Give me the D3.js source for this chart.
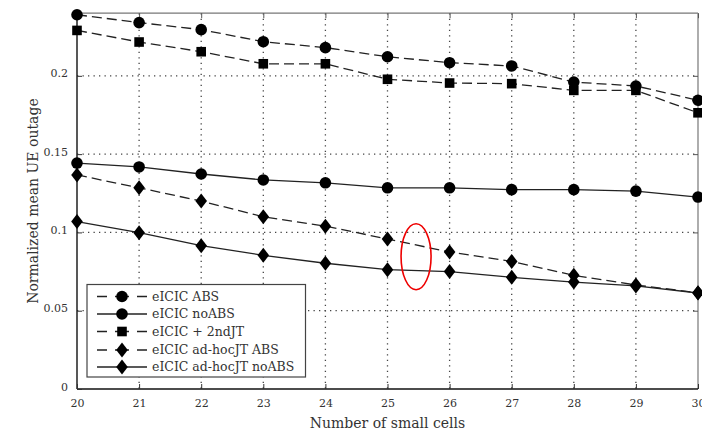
<!DOCTYPE html>
<html><head><meta charset="utf-8">
<script src="https://cdn.jsdelivr.net/npm/d3@7"></script>
<style>html,body{margin:0;padding:0;background:#fff;}svg{display:block;}</style>
</head><body>
<svg id="c" width="702" height="433"></svg>
<script>
const cells = [20,21,22,23,24,25,26,27,28,29,30];
const eicicABS = [0.239,0.234,0.2295,0.2218,0.218,0.2122,0.2084,0.2063,0.196,0.1935,0.1844];
const eicicNoABS = [0.1443,0.1418,0.1373,0.1335,0.1317,0.1285,0.1285,0.1273,0.1273,0.1264,0.1226];
const eicic2ndJT = [0.229,0.2216,0.2154,0.2077,0.2077,0.1978,0.1954,0.195,0.1907,0.1907,0.1764];
const adhocABS = [0.1367,0.1285,0.12,0.11,0.104,0.0958,0.0875,0.0815,0.0726,0.0664,0.0615];
const adhocNoABS = [0.1069,0.0998,0.0915,0.0854,0.0803,0.0762,0.075,0.0713,0.0683,0.0658,0.0613];
const yTicks = [0,0.05,0.1,0.15,0.2];
const yTickLabels = ["0","0.05","0.1","0.15","0.2"];
const seriesNames = ["eICIC ABS","eICIC noABS","eICIC + 2ndJT","eICIC ad-hocJT ABS","eICIC ad-hocJT noABS"];
const seriesValues = [eicicABS,eicicNoABS,eicic2ndJT,adhocABS,adhocNoABS];
const seriesMarkers = ["circle","circle","square","diamond","diamond"];
const seriesDashed = [true,false,true,true,false];

const svg = d3.select("#c");
const L=77, R=698, T=13.2, B=389;
const x = d3.scaleLinear().domain([20,30]).range([L,R]);
const y = d3.scaleLinear().domain([0,0.24]).range([B,T]);
const font = "'DejaVu Serif', 'Liberation Serif', serif";
const ink = "#222";

// grid
const g = svg.append("g");
g.selectAll(".gx").data(cells.slice(1,-1)).join("line")
  .attr("x1",d=>x(d)).attr("x2",d=>x(d)).attr("y1",T).attr("y2",B)
  .attr("stroke","#444").attr("stroke-width",1.3).attr("stroke-dasharray","1.3,4.2");
g.selectAll(".gy").data(yTicks.slice(1)).join("line")
  .attr("x1",L).attr("x2",R).attr("y1",d=>y(d)).attr("y2",d=>y(d))
  .attr("stroke","#444").attr("stroke-width",1.3).attr("stroke-dasharray","1.3,4.2");

// frame
svg.append("line").attr("x1",L).attr("x2",R).attr("y1",T).attr("y2",T).attr("stroke","#777").attr("stroke-width",1.2);
svg.append("line").attr("x1",R).attr("x2",R).attr("y1",T).attr("y2",B).attr("stroke","#777").attr("stroke-width",1.2);
svg.append("line").attr("x1",L).attr("x2",R).attr("y1",B).attr("y2",B).attr("stroke","#111").attr("stroke-width",1.4);
svg.append("line").attr("x1",L).attr("x2",L).attr("y1",T).attr("y2",B).attr("stroke","#111").attr("stroke-width",1.4);

// axes ticks
const xb = d3.axisBottom(x).tickValues(cells).tickFormat(d3.format("d")).tickSize(-5).tickPadding(10);
const gxA = svg.append("g").attr("transform",`translate(0,${B})`).call(xb);
gxA.select(".domain").remove();
gxA.selectAll("line").attr("stroke","#333");
gxA.selectAll("text").attr("font-family",font).attr("font-size",11).attr("fill","#333");
const xt = d3.axisTop(x).tickValues(cells).tickFormat("").tickSize(-5);
const gxT = svg.append("g").attr("transform",`translate(0,${T})`).call(xt);
gxT.select(".domain").remove(); gxT.selectAll("line").attr("stroke","#555");
const yl = d3.axisLeft(y).tickValues(yTicks).tickFormat((d,i)=>yTickLabels[i]).tickSize(-5).tickPadding(9);
const gyA = svg.append("g").attr("transform",`translate(${L},0)`).call(yl);
gyA.select(".domain").remove();
gyA.selectAll("line").attr("stroke","#333");
gyA.selectAll("text").attr("font-family",font).attr("font-size",11).attr("fill","#333").attr("dy","0.1em");
const yr = d3.axisRight(y).tickValues(yTicks).tickFormat("").tickSize(-5);
const gyR = svg.append("g").attr("transform",`translate(${R},0)`).call(yr);
gyR.select(".domain").remove(); gyR.selectAll("line").attr("stroke","#555");

// labels
svg.append("text").attr("x",(L+R)/2).attr("y",428).attr("text-anchor","middle")
  .attr("font-family",font).attr("font-size",14).attr("fill","#333").text("Number of small cells");
svg.append("text").attr("transform",`translate(38,${(T+B)/2}) rotate(-90)`).attr("text-anchor","middle")
  .attr("font-family",font).attr("font-size",14).attr("fill","#333").text("Normalized mean UE outage");

// marker drawing
function marker(sel, type){
  if(type==="circle") sel.append("circle").attr("r",5.8).attr("fill","#000");
  else if(type==="square") sel.append("rect").attr("x",-4.8).attr("y",-4.8).attr("width",9.6).attr("height",9.6).attr("fill","#000");
  else sel.append("path").attr("d","M0,-7.5L5.8,0L0,7.5L-5.8,0Z").attr("fill","#000");
}

const line = d3.line().x((d,i)=>x(cells[i])).y(d=>y(d));
seriesValues.forEach((vals,k)=>{
  svg.append("path").attr("d",line(vals)).attr("fill","none").attr("stroke",ink)
    .attr("stroke-width",1.3).attr("stroke-dasharray",seriesDashed[k]?"10,5":null);
});
seriesValues.forEach((vals,k)=>{
  vals.forEach((v,i)=>{
    const m = svg.append("g").attr("transform",`translate(${x(cells[i])},${y(v)})`);
    marker(m, seriesMarkers[k]);
  });
});

// legend
const lg = svg.append("g");
lg.append("rect").attr("x",87).attr("y",284.5).attr("width",218.5).attr("height",92.5)
  .attr("fill","#fff").attr("stroke","#444").attr("stroke-width",1.2);
const ly = [296.5,314,331.5,350,367];
seriesNames.forEach((n,k)=>{
  lg.append("line").attr("x1",97).attr("x2",147).attr("y1",ly[k]).attr("y2",ly[k])
    .attr("stroke",ink).attr("stroke-width",1.3).attr("stroke-dasharray",seriesDashed[k]?"10,8,14,8,10":null);
  const m = lg.append("g").attr("transform",`translate(122,${ly[k]})`);
  marker(m, seriesMarkers[k]);
  lg.append("text").attr("x",152).attr("y",ly[k]+4).attr("font-family",font).attr("font-size",12.5)
    .attr("fill","#333").text(n);
});

// red annotation ellipse
svg.append("ellipse").attr("cx",x(25.46)).attr("cy",y(0.0845)).attr("rx",15).attr("ry",33)
  .attr("fill","none").attr("stroke","#e00").attr("stroke-width",1.6);
</script>
</body></html>
